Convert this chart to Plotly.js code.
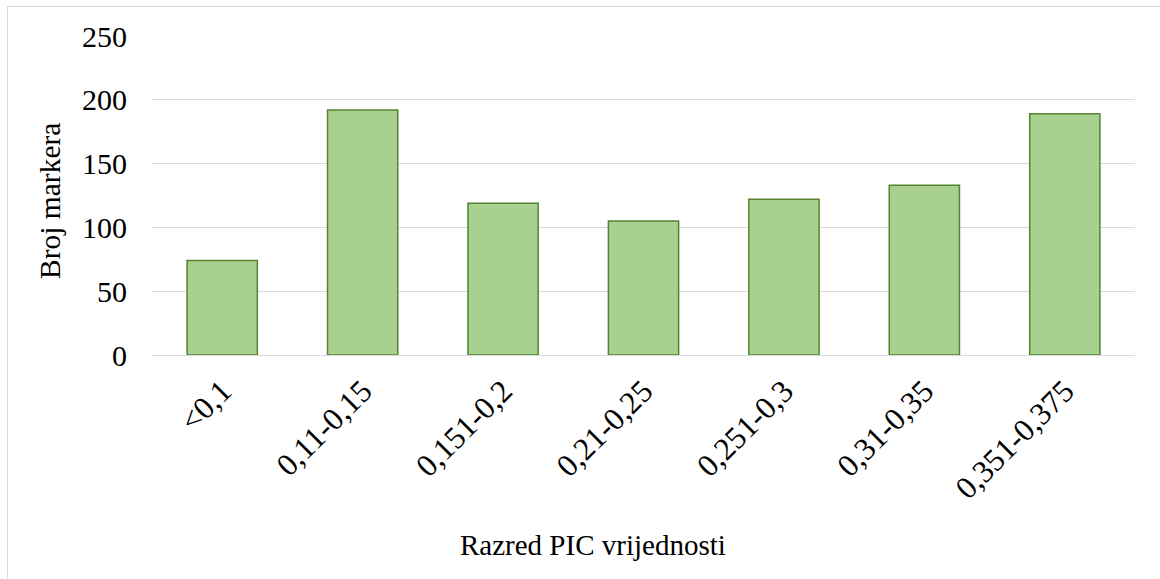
<!DOCTYPE html>
<html>
<head>
<meta charset="utf-8">
<script src="https://cdn.plot.ly/plotly-3.0.1.min.js"></script>
<style>html,body{margin:0;padding:0;background:#fff;}#chart{width:1160px;height:579px;}</style>
</head>
<body>
<div id="chart"></div>
<script>
const categories = ["<0,1", "0,11-0,15", "0,151-0,2", "0,21-0,25", "0,251-0,3", "0,31-0,35", "0,351-0,375"];
const values = [74, 192, 119, 105, 122, 133, 189];
const yTicks = [0, 50, 100, 150, 200, 250];
const xTitle = "Razred PIC vrijednosti";
const yTitle = "Broj markera";

const W = 1160, H = 579;
const L = 152, R = 25, T = 36, B = 224;
const pw = W - L - R, ph = H - T - B;
const px = v => (v - L) / pw;
const py = v => (H - B - v) / ph;

const font = {family: "Liberation Serif, Times New Roman, serif", color: "#000"};

Plotly.newPlot("chart", [{
  type: "bar",
  x: categories,
  y: values,
  marker: {color: "#A9D18E", line: {color: "#548235", width: 1.5}},
  hoverinfo: "x+y"
}], {
  width: W, height: H,
  margin: {l: L, r: R, t: T, b: B, pad: 0},
  paper_bgcolor: "#fff", plot_bgcolor: "#fff",
  bargap: 0.5,
  showlegend: false,
  xaxis: {
    type: "category",
    tickangle: -45,
    tickfont: Object.assign({size: 31.5}, font),
    showgrid: false,
    showline: true, linecolor: "#D9D9D9", linewidth: 1,
    ticks: "outside", ticklen: 4, tickcolor: "rgba(0,0,0,0)",
    automargin: false
  },
  yaxis: {
    range: [0, 250],
    tickvals: yTicks,
    ticktext: yTicks.map(String),
    tickfont: Object.assign({size: 30}, font),
    showgrid: true, gridcolor: "#D9D9D9", gridwidth: 1,
    zeroline: false, showline: false,
    ticks: "outside", ticklen: 18, tickcolor: "rgba(0,0,0,0)",
    automargin: false
  },
  annotations: [
    {text: xTitle, xref: "paper", yref: "paper", x: px(593), y: py(545), xanchor: "center", yanchor: "middle", showarrow: false, font: Object.assign({size: 29}, font)},
    {text: yTitle, xref: "paper", yref: "paper", x: px(50), y: py(201), xanchor: "center", yanchor: "middle", textangle: -90, showarrow: false, font: Object.assign({size: 29.5}, font)}
  ],
  shapes: [
    {type: "line", xref: "paper", yref: "paper", x0: px(7.5), x1: px(1160), y0: py(6.5), y1: py(6.5), line: {color: "#D9D9D9", width: 1}},
    {type: "line", xref: "paper", yref: "paper", x0: px(7.5), x1: px(7.5), y0: py(6.5), y1: py(579), line: {color: "#D9D9D9", width: 1}}
  ]
}, {displayModeBar: false});
</script>
</body>
</html>
